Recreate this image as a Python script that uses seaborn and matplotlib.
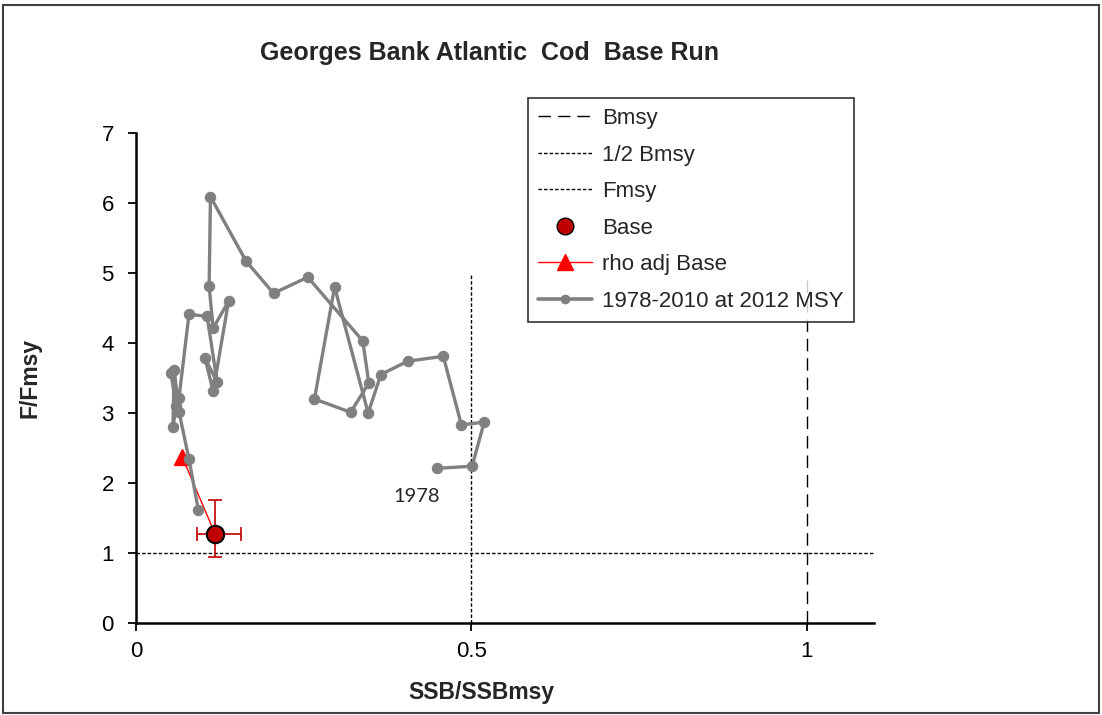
import numpy as np
import pandas as pd
import seaborn as sns
import matplotlib.pyplot as plt
from matplotlib.lines import Line2D
from matplotlib.patches import Rectangle

# Trajectory 1978-2010 (SSB/SSBmsy, F/Fmsy)
years = list(range(1978, 2011))
ssb_ratio = [0.449, 0.501, 0.519, 0.485, 0.458, 0.405, 0.365, 0.346, 0.296, 0.266,
             0.320, 0.347, 0.338, 0.256, 0.205, 0.164, 0.111, 0.109, 0.115, 0.138,
             0.115, 0.103, 0.121, 0.106, 0.079, 0.064, 0.052, 0.060, 0.055, 0.057,
             0.064, 0.079, 0.093]
f_ratio = [2.21, 2.24, 2.87, 2.83, 3.81, 3.74, 3.55, 3.00, 4.80, 3.20,
           3.01, 3.43, 4.03, 4.94, 4.71, 5.17, 6.09, 4.81, 4.21, 4.60,
           3.31, 3.78, 3.44, 4.38, 4.41, 3.21, 3.57, 3.10, 2.80, 3.61,
           3.02, 2.34, 1.61]

# Base run terminal point with error bars
base_ssb = 0.118
base_f = 1.27
base_ssb_lo, base_ssb_hi = 0.091, 0.157
base_f_lo, base_f_hi = 0.94, 1.76

# Retrospective (rho) adjusted point
rho_ssb = 0.069
rho_f = 2.37

# Reference points
bmsy = 1.0
half_bmsy = 0.5
fmsy = 1.0

df = pd.DataFrame({'year': years, 'ssb': ssb_ratio, 'f': f_ratio})

sns.set_style('ticks')
plt.rcParams['font.family'] = ['Liberation Sans', 'DejaVu Sans']

fig = plt.figure(figsize=(11.02, 7.15), dpi=100)
ax = fig.add_axes([136 / 1102, 92 / 715, 738 / 1102, 490 / 715])

# Reference lines
ax.plot([bmsy, bmsy], [0, 5], color='black', lw=1, dashes=(9, 5))
ax.plot([half_bmsy, half_bmsy], [0, 5], color='black', lw=1, dashes=(2.5, 1.5))
ax.plot([0, 1.1], [fmsy, fmsy], color='black', lw=1, dashes=(2.5, 1.5))

# rho adjusted point linked to the base
ax.plot([rho_ssb, base_ssb], [rho_f, base_f], color='red', lw=1, zorder=3)
ax.plot([rho_ssb], [rho_f], marker='^', color='red', markersize=12, ls='none', zorder=3)

# Historical trajectory
sns.lineplot(data=df, x='ssb', y='f', sort=False, estimator=None, ax=ax,
             color='#808080', lw=2.4, marker='o', markersize=7.5,
             markeredgecolor='#808080', markerfacecolor='#808080', zorder=4)

# Base point with error bars
ax.errorbar([base_ssb], [base_f],
            xerr=[[base_ssb - base_ssb_lo], [base_ssb_hi - base_ssb]],
            yerr=[[base_f - base_f_lo], [base_f_hi - base_f]],
            fmt='none', ecolor='#C00000', elinewidth=1.2, capsize=5, capthick=1.2, zorder=5)
ax.plot([base_ssb], [base_f], marker='o', color='#C00000', markeredgecolor='black',
        markeredgewidth=1.5, markersize=12.5, ls='none', zorder=6)

ax.text(0.419, 1.81, '1978', ha='center', va='center', fontsize=14.5, family=['Lato', 'DejaVu Sans'])

ax.set_xlim(0, 1.1)
ax.set_ylim(0, 7)
ax.set_xticks([0, 0.5, 1])
ax.set_xticklabels(['0', '0.5', '1'])
ax.set_yticks(range(0, 8))
ax.tick_params(axis='both', labelsize=16, direction='out', length=6, width=1.3, colors='black')
ax.tick_params(axis='x', pad=7)
ax.tick_params(axis='y', pad=10)
for s in ['left', 'bottom']:
    ax.spines[s].set_linewidth(1.8)
    ax.spines[s].set_color('black')
sns.despine(ax=ax)

ax.set_xlabel('SSB/SSBmsy', fontsize=16.5, fontweight='bold', va='center')
ax.set_ylabel('F/Fmsy', fontsize=16.5, fontweight='bold', va='center')
ax.xaxis.set_label_coords((481 - 136) / 738, (623 - 692) / 490)
ax.yaxis.set_label_coords((30 - 136) / 738, 0.5)

fig.text(490 / 1102, 1 - 53 / 715, 'Georges Bank Atlantic  Cod  Base Run', ha='center', va='center',
         fontsize=18, fontweight='bold')

handles = [
    Line2D([], [], color='black', lw=1, dashes=(9, 5)),
    Line2D([], [], color='black', lw=1, dashes=(2.5, 1.5)),
    Line2D([], [], color='black', lw=1, dashes=(2.5, 1.5)),
    Line2D([], [], color='#C00000', marker='o', markeredgecolor='black', markersize=12, ls='none'),
    Line2D([], [], color='red', lw=1, marker='^', markersize=12),
    Line2D([], [], color='#808080', lw=2.6, marker='o', markersize=6),
]
labels = ['Bmsy', '1/2 Bmsy', 'Fmsy', 'Base', 'rho adj Base', '1978-2010 at 2012 MSY']
leg = fig.legend(handles, labels, loc='upper left', bbox_to_anchor=(528 / 1102, 1 - 98 / 715),
                 borderaxespad=0, fontsize=16, frameon=True, fancybox=False, handlelength=2.45,
                 labelspacing=0.7, borderpad=0.45, handletextpad=0.45)
leg.get_frame().set_edgecolor('black')
leg.get_frame().set_linewidth(1.2)

fig.patches.append(Rectangle((0.003, 0.003), 0.994, 0.99, transform=fig.transFigure,
                             fill=False, edgecolor='#404040', lw=1.5))

fig.savefig('out.png', dpi=100)
